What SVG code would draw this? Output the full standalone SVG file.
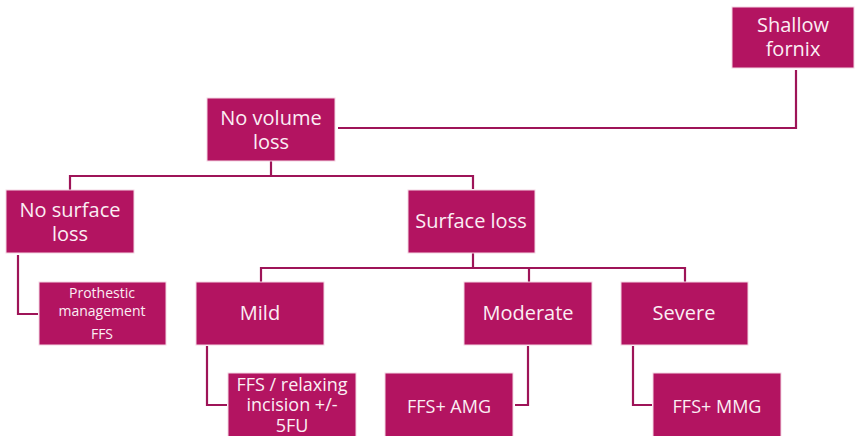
<svg xmlns="http://www.w3.org/2000/svg" width="856" height="436" viewBox="0 0 856 436">
<style>
.box{fill:#B31461;stroke:#f3d6e3;stroke-width:1}
.t{fill:#fbeef4;font-family:"Open Sans","Liberation Sans",sans-serif;text-anchor:middle}
.l{font-size:20px}
.m{font-size:18px}
.s{font-size:14px}
.c{fill:none;stroke:#9E1458;stroke-width:2.2}
</style>
<rect width="856" height="436" fill="#ffffff"/>
<g id="connectors">
<polyline class="c" points="796,70 796,128 338,128"/>
<polyline class="c" points="271,161 271,176 70,176 70,190"/>
<polyline class="c" points="271,176 473,176 473,189"/>
<polyline class="c" points="18,255 18,314 38,314"/>
<polyline class="c" points="473,253 473,268 261,268 261,282"/>
<polyline class="c" points="473,268 685,268 685,282"/>
<polyline class="c" points="529,268 529,282"/>
<polyline class="c" points="207,346 207,405 227,405"/>
<polyline class="c" points="528,346 528,405 515,405"/>
<polyline class="c" points="633,346 633,405 652,405"/>
</g>
<g id="shallow-fornix"><rect class="box" x="732" y="7" width="122" height="61"/><text class="t l" x="793" y="32">Shallow</text><text class="t l" x="793" y="56">fornix</text></g>
<g id="no-volume-loss"><rect class="box" x="207" y="98" width="128" height="63"/><text class="t l" x="271" y="125">No volume</text><text class="t l" x="271" y="149">loss</text></g>
<g id="no-surface-loss"><rect class="box" x="6" y="190" width="128" height="63"/><text class="t l" x="70" y="217">No surface</text><text class="t l" x="70" y="241">loss</text></g>
<g id="surface-loss"><rect class="box" x="408" y="190" width="127" height="63"/><text class="t l" x="471" y="228">Surface loss</text></g>
<g id="prothestic"><rect class="box" x="39" y="282" width="127" height="63"/><text class="t s" x="102" y="298">Prothestic</text><text class="t s" x="102" y="316">management</text><text class="t s" x="102" y="339">FFS</text></g>
<g id="mild"><rect class="box" x="196" y="282" width="128" height="63"/><text class="t l" x="260" y="320">Mild</text></g>
<g id="moderate"><rect class="box" x="464" y="282" width="128" height="63"/><text class="t l" x="528" y="320">Moderate</text></g>
<g id="severe"><rect class="box" x="621" y="282" width="127" height="63"/><text class="t l" x="684" y="320">Severe</text></g>
<g id="ffs-relaxing"><rect class="box" x="228" y="373" width="128" height="64"/><text class="t m" x="292" y="391">FFS / relaxing</text><text class="t m" x="292" y="411">incision +/-</text><text class="t m" x="292" y="432">5FU</text></g>
<g id="ffs-amg"><rect class="box" x="385" y="373" width="128" height="64"/><text class="t m" x="449" y="413">FFS+ AMG</text></g>
<g id="ffs-mmg"><rect class="box" x="653" y="373" width="128" height="64"/><text class="t m" x="717" y="413">FFS+ MMG</text></g>
</svg>
